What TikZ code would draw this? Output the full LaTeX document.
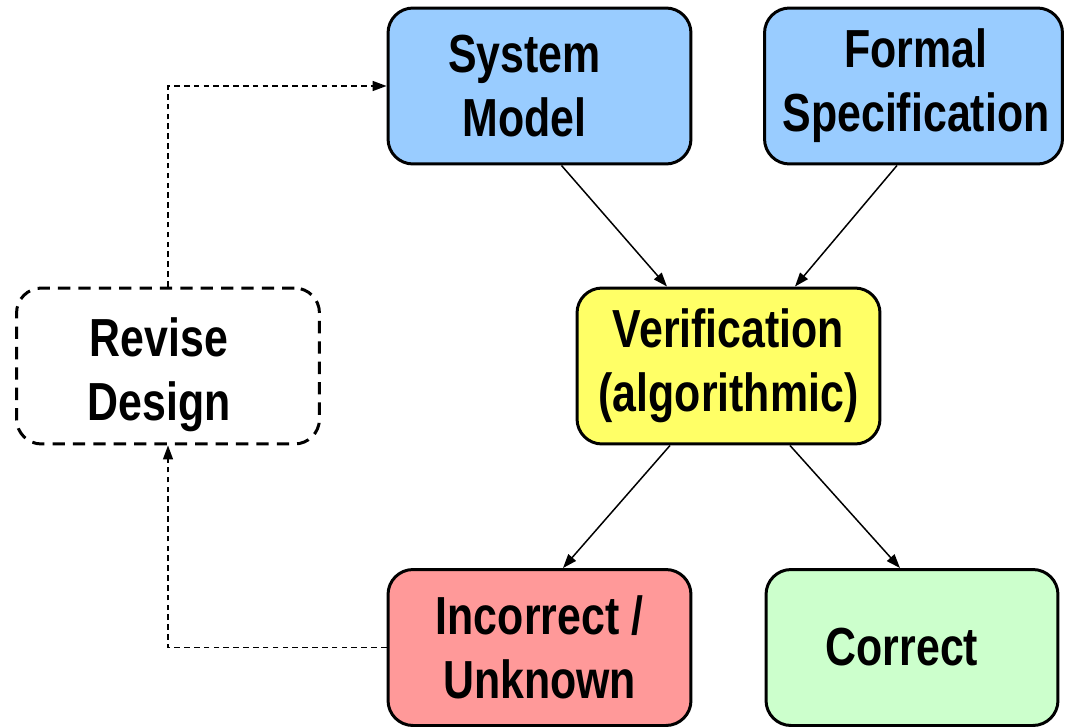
\documentclass[tikz,border=0pt]{standalone}
\usepackage{fontspec}
\setmainfont{Liberation Sans}[FakeStretch=0.8]
\usetikzlibrary{arrows.meta,calc}
\definecolor{cblue}{HTML}{99CCFF}
\definecolor{cyellow}{HTML}{FFFF66}
\definecolor{cred}{HTML}{FF9999}
\definecolor{cgreen}{HTML}{CCFFCC}
\begin{document}
\begin{tikzpicture}[x=0.02cm,y=-0.02cm,
  box/.style={draw=black,line width=1.7pt,rounded corners=0.5cm,
    minimum width=6.06cm,minimum height=3.12cm,inner sep=0pt},
  lbl/.style={align=center,inner sep=0pt,
    font=\fontsize{30.5}{36.5}\selectfont\bfseries},
  conn/.style={line width=0.85pt,-{Triangle[length=0.28cm,width=0.2cm]}},
  dconn/.style={conn,dash pattern=on 3.2pt off 2.4pt}]
\useasboundingbox (0,0) rectangle (1065,727);
\node[box,fill=cblue,label={[lbl,xshift=-0.3cm]center:System\\Model}] (sm) at (539.5,86) {};
\node[box,fill=cblue,minimum width=5.96cm,label={[lbl,xshift=0.05cm]center:Formal\\Specification}] (fs) at (913.5,86) {};
\node[box,fill=cyellow,label={[lbl]center:Verification\\(algorithmic)}] (ver) at (728.5,366) {};
\node[box,dash pattern=on 7pt off 4.6pt,label={[lbl,xshift=-0.18cm,yshift=-0.18cm]center:Revise\\Design}] (rev) at (168,366) {};
\node[box,fill=cred,label={[lbl]center:Incorrect /\\Unknown}] (inc) at (539.5,647.5) {};
\node[box,fill=cgreen,minimum width=5.84cm,label={[lbl,xshift=-0.2cm]center:Correct}] (cor) at (912,647.5) {};
\draw[conn] ($(sm.south)+(22,0)$) -- ($(ver.north)+(-61.5,0)$);
\draw[conn] ($(fs.south)+(-16.5,0)$) -- ($(ver.north)+(66.5,0)$);
\draw[conn] ($(ver.south)+(-58.5,0)$) -- ($(inc.north)+(23.5,0)$);
\draw[conn] ($(ver.south)+(61.5,0)$) -- ($(cor.north)+(-12,0)$);
\draw[dconn] (inc.west) -| (rev.south);
\draw[dconn] (rev.north) |- (sm.west);
\end{tikzpicture}
\end{document}
